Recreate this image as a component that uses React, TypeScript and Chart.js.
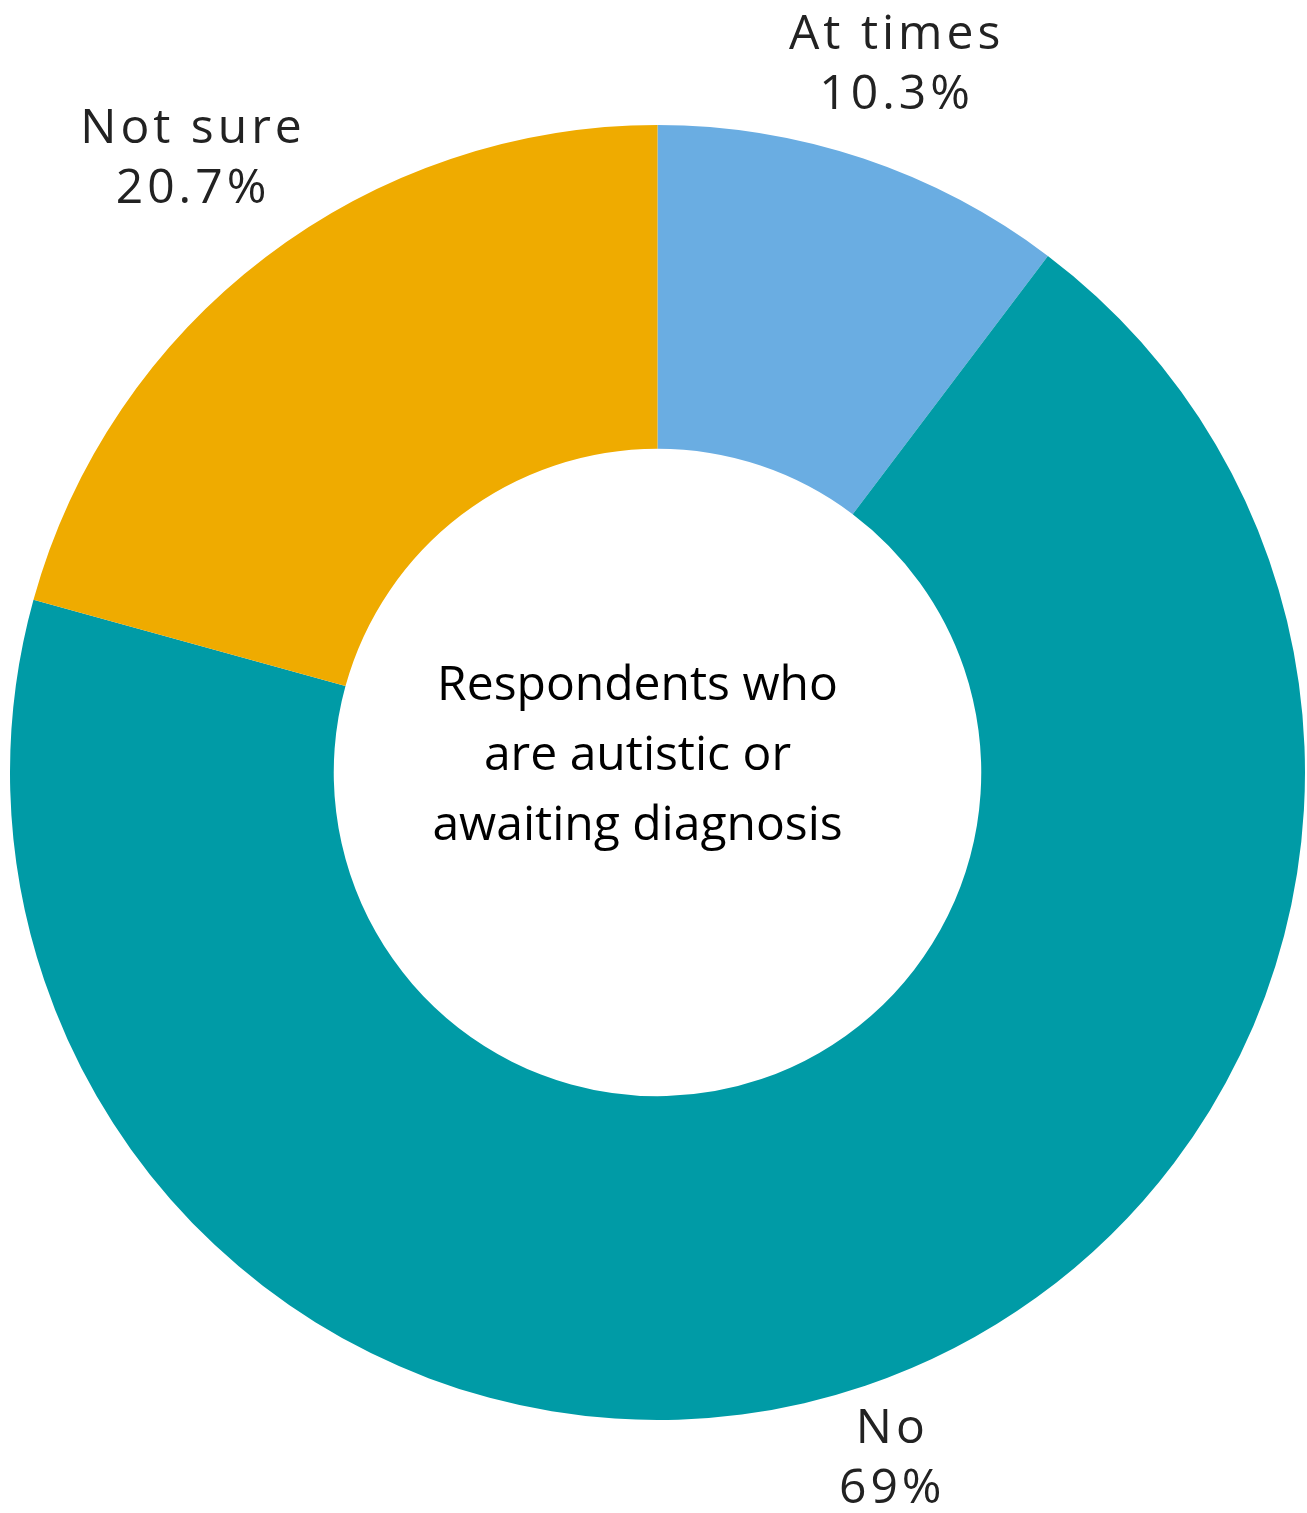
import React, { useEffect, useRef } from "react";
import { Chart, registerables } from "chart.js";

Chart.register(...registerables);

const categories = ["At times", "No", "Not sure"];
const values = [10.3, 69, 20.7];
const valueLabels = ["10.3%", "69%", "20.7%"];
const colors = ["#6AADE2", "#009BA6", "#EFAB00"];
const centerLines = ["Respondents who", "are autistic or", "awaiting diagnosis"];

const labelPlugin = {
  id: "labels",
  afterDraw(chart: any) {
    const ctx = chart.ctx;
    const meta = chart.getDatasetMeta(0);
    ctx.save();
    ctx.textAlign = "center";
    ctx.textBaseline = "middle";
    ctx.fillStyle = "#222222";
    ctx.font = "48px 'Open Sans'";
    (ctx as any).letterSpacing = "4px";
    const radFactor = [1.152, 1.12, 1.19];
    meta.data.forEach((arc: any, i: number) => {
      const { x, y, startAngle, endAngle, outerRadius } = arc.getProps(
        ["x", "y", "startAngle", "endAngle", "outerRadius"],
        true
      );
      const mid = (startAngle + endAngle) / 2;
      const r = outerRadius * radFactor[i];
      const cx = x + Math.cos(mid) * r + 2;
      const cy = y + Math.sin(mid) * r;
      ctx.fillText(categories[i], cx, cy - 30);
      ctx.fillText(valueLabels[i], cx, cy + 30);
    });
    (ctx as any).letterSpacing = "0px";
    const a0 = meta.data[0];
    ctx.fillStyle = "#000000";
    ctx.font = "48px 'Open Sans'";
    centerLines.forEach((t, k) => {
      ctx.fillText(t, a0.x - 20, a0.y - 86 + k * 70);
    });
    ctx.restore();
  },
};

export default function App() {
  const ref = useRef<HTMLCanvasElement>(null);
  useEffect(() => {
    document.body.style.margin = "0";
    const chart = new Chart(ref.current!, {
      type: "doughnut",
      data: {
        labels: categories,
        datasets: [
          {
            data: values,
            backgroundColor: colors,
            borderWidth: 0,
          },
        ],
      },
      options: {
        responsive: false,
        animation: false,
        cutout: "50%",
        layout: { padding: { left: 10, right: 2, top: 125, bottom: 93 } },
        plugins: { legend: { display: false }, tooltip: { enabled: false } },
      },
      plugins: [labelPlugin],
    });
    return () => chart.destroy();
  }, []);
  return (
    <div style={{ width: 1307, height: 1513, background: "#fff" }}>
      <canvas ref={ref} width={1307} height={1513} />
    </div>
  );
}
